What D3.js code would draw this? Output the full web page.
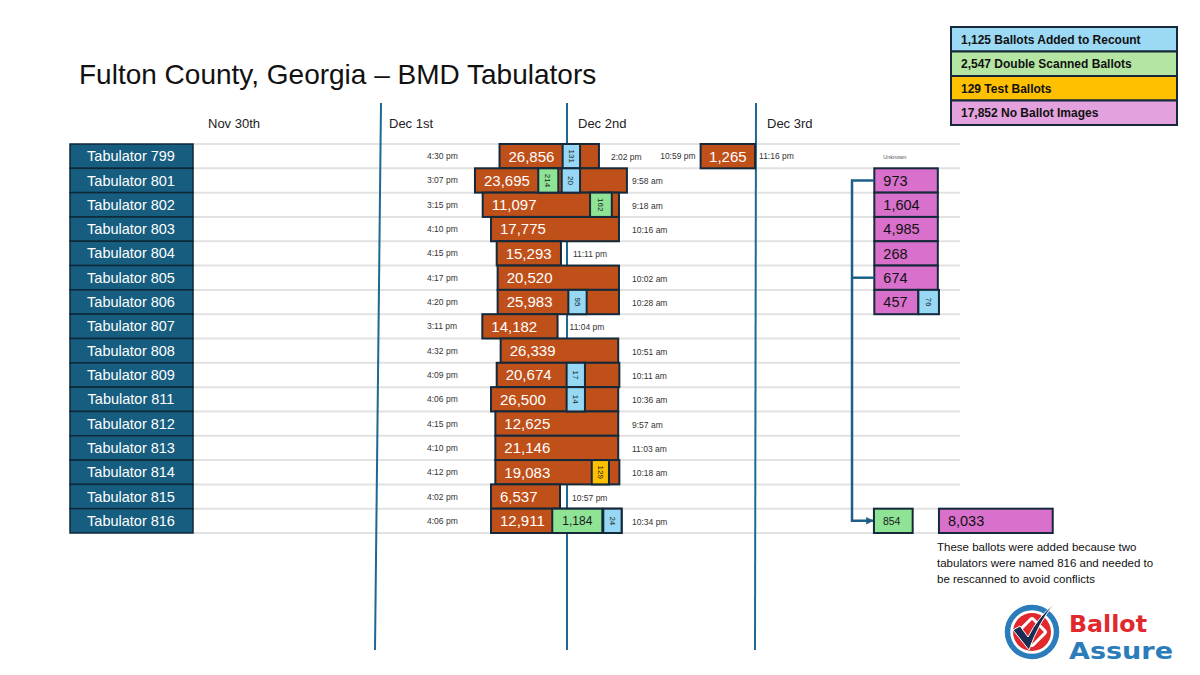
<!DOCTYPE html>
<html>
<head>
<meta charset="utf-8">
<script src="https://cdn.jsdelivr.net/npm/d3@7"></script>
<style>
  html, body { margin: 0; padding: 0; background: #fff; }
  svg { display: block; font-family: "Liberation Sans", Arial, sans-serif; }
</style>
</head>
<body>
<div id="chart"></div>
<script>
// Tabulator rows, top to bottom
const tabulators = ['Tabulator 799', 'Tabulator 801', 'Tabulator 802', 'Tabulator 803', 'Tabulator 804',
  'Tabulator 805', 'Tabulator 806', 'Tabulator 807', 'Tabulator 808', 'Tabulator 809', 'Tabulator 811',
  'Tabulator 812', 'Tabulator 813', 'Tabulator 814', 'Tabulator 815', 'Tabulator 816'];

const ballots = [26856, 23695, 11097, 17775, 15293, 20520, 25983, 14182, 26339, 20674, 26500,
  12625, 21146, 19083, 6537, 12911];

const startTimes = ['4:30 pm', '3:07 pm', '3:15 pm', '4:10 pm', '4:15 pm', '4:17 pm', '4:20 pm', '3:11 pm',
  '4:32 pm', '4:09 pm', '4:06 pm', '4:15 pm', '4:10 pm', '4:12 pm', '4:02 pm', '4:06 pm'];
const endTimes = ['2:02 pm', '9:58 am', '9:18 am', '10:16 am', '11:11 pm', '10:02 am', '10:28 am', '11:04 pm',
  '10:51 am', '10:11 am', '10:36 am', '9:57 am', '11:03 am', '10:18 am', '10:57 pm', '10:34 pm'];

// bar extents on the day axis (0 = Nov 30, 1 = Dec 1 ...), as drawn
const barStart = [1.643, 1.513, 1.554, 1.598, 1.628, 1.633, 1.633, 1.552, 1.649, 1.628, 1.598,
  1.621, 1.621, 1.621, 1.598, 1.598];
const barEnd = [2.169, 2.317, 2.275, 2.275, 1.968, 2.275, 2.275, 1.950, 2.271, 2.277, 2.271,
  2.271, 2.271, 2.277, 1.963, 2.289];

// second scan of tabulator 799
const rescan = { row: 'Tabulator 799', value: 1265, start: 2.707, end: 2.995, from: '10:59 pm', to: '11:16 pm' };

// small boxes: added (blue), double scanned (green), test (yellow)
const extras = [
  { row: 'Tabulator 799', kind: 'added', value: 131, start: 1.977, end: 2.069 },
  { row: 'Tabulator 801', kind: 'double', value: 214, start: 1.848, end: 1.954 },
  { row: 'Tabulator 801', kind: 'added', value: 20, start: 1.972, end: 2.069 },
  { row: 'Tabulator 802', kind: 'double', value: 162, start: 2.122, end: 2.237 },
  { row: 'Tabulator 806', kind: 'added', value: 95, start: 2.007, end: 2.104 },
  { row: 'Tabulator 809', kind: 'added', value: 17, start: 1.998, end: 2.095 },
  { row: 'Tabulator 811', kind: 'added', value: 14, start: 1.998, end: 2.095 },
  { row: 'Tabulator 814', kind: 'test', value: 129, start: 2.131, end: 2.222 },
  { row: 'Tabulator 816', kind: 'double', value: 1184, start: 1.922, end: 2.187, flat: true },
  { row: 'Tabulator 816', kind: 'added', value: 24, start: 2.192, end: 2.289 },
  { row: 'Tabulator 806', kind: 'added', value: 76, start: 3.859, end: 3.968 },
  { row: 'Tabulator 816', kind: 'double', value: 854, start: 3.624, end: 3.829, flat: true, small: true }
];

// "Unknown" column: no ballot images
const unknownRows = ['Tabulator 801', 'Tabulator 802', 'Tabulator 803', 'Tabulator 804', 'Tabulator 805', 'Tabulator 806'];
const unknownValues = [973, 1604, 4985, 268, 674, 457];
const unknownStart = [3.626, 3.626, 3.626, 3.626, 3.626, 3.626];
const unknownEnd = [3.962, 3.962, 3.962, 3.962, 3.962, 3.859];
const duplicate816 = { row: 'Tabulator 816', value: 8033, start: 3.968, end: 4.570 };

const dayLabels = ['Nov 30th', 'Dec 1st', 'Dec 2nd', 'Dec 3rd'];

const legendLabels = ['1,125 Ballots Added to Recount', '2,547 Double Scanned Ballots', '129 Test Ballots', '17,852 No Ballot Images'];
const legendColors = ['#9bd9f5', '#b5e5a3', '#ffc000', '#e3a1dd'];

const noteLines = ['These ballots were added because two', 'tabulators were named 816 and needed to', 'be rescanned to avoid conflicts'];

const colors = { main: '#c0501a', added: '#97d8f4', double: '#8ee395', test: '#ffc000', unknown: '#d870cc' };
const edge = '#14293a';

const W = 1200, H = 675;
const svg = d3.select('#chart').append('svg').attr('width', W).attr('height', H);

const x = d3.scaleLinear().domain([0, 4]).range([189, 945]);
const y = d3.scaleBand().domain(tabulators).range([144, 533]).padding(0);
const bh = y.bandwidth();
const mid = r => y(r) + bh / 2;

// title
svg.append('text').attr('x', 79).attr('y', 84)
  .style('font-size', '28px').style('fill', '#111')
  .text('Fulton County, Georgia – BMD Tabulators');

// row grid lines
const gridYs = tabulators.map(r => y(r)).concat([y(tabulators[tabulators.length - 1]) + bh]);
svg.append('g').selectAll('line').data(gridYs).join('line')
  .attr('x1', 193).attr('x2', 960)
  .attr('y1', d => d).attr('y2', d => d)
  .style('stroke', '#e2e2e2').style('stroke-width', 2);

// day separators
svg.append('g').selectAll('line').data([1, 2, 3]).join('line')
  .attr('x1', d => x(d) + (d === 1 ? 3 : 0)).attr('x2', d => x(d) - (d === 1 ? 3 : d === 3 ? 1 : 0))
  .attr('y1', 103).attr('y2', 650)
  .style('stroke', '#1f6890').style('stroke-width', 2);

// day labels
svg.append('g').selectAll('text').data(dayLabels).join('text')
  .attr('x', (d, i) => x(i) + (i === 0 ? 19 : 11))
  .attr('y', 128)
  .style('font-size', '13px').style('fill', '#222')
  .text(d => d);

// tabulator name boxes
const names = svg.append('g');
names.selectAll('rect').data(tabulators).join('rect')
  .attr('x', 70).attr('y', d => y(d)).attr('width', 123).attr('height', bh)
  .style('fill', '#175d80').style('stroke', '#0e2838').style('stroke-width', 1.5);
names.selectAll('text').data(tabulators).join('text')
  .attr('x', 131).attr('y', d => mid(d)).attr('dy', '0.35em')
  .attr('text-anchor', 'middle')
  .style('font-size', '14.5px').style('fill', '#fff')
  .text(d => d);

// start time labels
svg.append('g').selectAll('text').data(startTimes).join('text')
  .attr('x', 427).attr('y', (d, i) => mid(tabulators[i])).attr('dy', '0.35em')
  .style('font-size', '8.5px').style('fill', '#333')
  .text(d => d);

// main tabulation bars
const bars = svg.append('g');
bars.selectAll('rect').data(tabulators).join('rect')
  .attr('x', (d, i) => x(barStart[i])).attr('y', d => y(d))
  .attr('width', (d, i) => x(barEnd[i]) - x(barStart[i])).attr('height', bh)
  .style('fill', colors.main).style('stroke', edge).style('stroke-width', 2);
bars.selectAll('text').data(tabulators).join('text')
  .attr('x', (d, i) => x(barStart[i]) + 9).attr('y', d => mid(d)).attr('dy', '0.36em')
  .style('font-size', '15px').style('fill', '#fff')
  .text((d, i) => d3.format(',')(ballots[i]));

// end time labels
svg.append('g').selectAll('text').data(endTimes).join('text')
  .attr('x', (d, i) => x(barEnd[i]) < 600 ? x(barEnd[i]) + 12 : 632)
  .attr('y', (d, i) => mid(tabulators[i]) + 1).attr('dy', '0.35em')
  .style('font-size', '8.5px').style('fill', '#333')
  .text(d => d);

// rescan of 799
svg.append('rect')
  .attr('x', x(rescan.start)).attr('y', y(rescan.row))
  .attr('width', x(rescan.end) - x(rescan.start)).attr('height', bh)
  .style('fill', colors.main).style('stroke', edge).style('stroke-width', 2);
svg.append('text').attr('x', (x(rescan.start) + x(rescan.end)) / 2).attr('y', mid(rescan.row)).attr('dy', '0.36em')
  .attr('text-anchor', 'middle').style('font-size', '15px').style('fill', '#fff')
  .text(d3.format(',')(rescan.value));
svg.append('text').attr('x', x(rescan.start) - 5).attr('y', mid(rescan.row)).attr('dy', '0.35em')
  .attr('text-anchor', 'end').style('font-size', '8.5px').style('fill', '#333').text(rescan.from);
svg.append('text').attr('x', x(rescan.end) + 4).attr('y', mid(rescan.row)).attr('dy', '0.35em')
  .style('font-size', '8.5px').style('fill', '#333').text(rescan.to);

// unknown column
svg.append('text').attr('x', x(3.626) + 9).attr('y', y('Tabulator 801') - 9)
  .style('font-size', '5.5px').style('fill', '#555').text('Unknown');
const unk = svg.append('g');
unk.selectAll('rect').data(unknownRows).join('rect')
  .attr('x', (d, i) => x(unknownStart[i])).attr('y', d => y(d))
  .attr('width', (d, i) => x(unknownEnd[i]) - x(unknownStart[i])).attr('height', bh)
  .style('fill', colors.unknown).style('stroke', edge).style('stroke-width', 2);
unk.selectAll('text').data(unknownRows).join('text')
  .attr('x', (d, i) => x(unknownStart[i]) + 9).attr('y', d => mid(d)).attr('dy', '0.36em')
  .style('font-size', '14.5px').style('fill', '#111')
  .text((d, i) => d3.format(',')(unknownValues[i]));

svg.append('rect')
  .attr('x', x(duplicate816.start)).attr('y', y(duplicate816.row))
  .attr('width', x(duplicate816.end) - x(duplicate816.start)).attr('height', bh)
  .style('fill', colors.unknown).style('stroke', edge).style('stroke-width', 2);
svg.append('text').attr('x', x(duplicate816.start) + 9).attr('y', mid(duplicate816.row)).attr('dy', '0.36em')
  .style('font-size', '14.5px').style('fill', '#111').text(d3.format(',')(duplicate816.value));

// small boxes
const ex = svg.append('g').selectAll('g').data(extras).join('g');
ex.append('rect')
  .attr('x', d => x(d.start)).attr('y', d => y(d.row))
  .attr('width', d => x(d.end) - x(d.start)).attr('height', bh)
  .style('fill', d => colors[d.kind]).style('stroke', edge).style('stroke-width', 2);
ex.append('text')
  .attr('transform', d => {
    const cx = d.small ? x(d.start) + 9 : (x(d.start) + x(d.end)) / 2;
    return d.flat ? `translate(${cx},${mid(d.row)})` : `translate(${cx},${mid(d.row)}) rotate(90)`;
  })
  .attr('dy', '0.35em')
  .attr('text-anchor', d => d.small ? 'start' : 'middle')
  .style('font-size', d => d.small ? '10.5px' : d.flat ? '12px' : '8px')
  .style('fill', '#1a1a1a')
  .text(d => d3.format(',')(d.value));

// connector from the 816 duplicates to the unknown column
const cx = x(3.508);
const conn = '#1d5f88';
svg.append('defs').append('marker').attr('id', 'arrow')
  .attr('viewBox', '0 0 10 10').attr('refX', 9).attr('refY', 5)
  .attr('markerWidth', 3).attr('markerHeight', 3).attr('orient', 'auto')
  .append('path').attr('d', 'M0,0 L10,5 L0,10 Z').style('fill', conn);
const link = svg.append('g').style('fill', 'none').style('stroke', conn).style('stroke-width', 2.5);
link.append('path')
  .attr('d', `M${x(3.626)},${mid('Tabulator 801')} H${cx} V${mid('Tabulator 816')} H${x(3.624) - 1}`)
  .attr('marker-end', 'url(#arrow)');
link.append('path').attr('d', `M${x(3.626)},${mid('Tabulator 805')} H${cx}`);

// note
svg.append('g').selectAll('text').data(noteLines).join('text')
  .attr('x', 937).attr('y', (d, i) => 551 + i * 16)
  .style('font-size', '11.5px').style('fill', '#111')
  .text(d => d);

// legend
const lg = svg.append('g').attr('transform', 'translate(951,27)');
const lh = 24.5;
lg.selectAll('rect').data(legendLabels).join('rect')
  .attr('x', 0).attr('y', (d, i) => i * lh).attr('width', 226).attr('height', lh)
  .style('fill', (d, i) => legendColors[i]).style('stroke', '#16283a').style('stroke-width', 2);
lg.selectAll('text').data(legendLabels).join('text')
  .attr('x', 10).attr('y', (d, i) => i * lh + lh / 2).attr('dy', '0.36em')
  .style('font-size', '12px').style('font-weight', 'bold').style('fill', '#111')
  .text(d => d);

// Ballot Assure logo
const logo = svg.append('g');
logo.append('circle').attr('cx', 1032).attr('cy', 632).attr('r', 24.5)
  .style('fill', 'none').style('stroke', '#2b7cba').style('stroke-width', 5.5);
logo.append('circle').attr('cx', 1032).attr('cy', 632).attr('r', 19).style('fill', '#e1282c');
logo.append('rect').attr('x', 1022).attr('y', 622).attr('width', 20).attr('height', 20).attr('rx', 2)
  .attr('transform', 'rotate(45,1032,632)')
  .style('fill', '#e1282c').style('stroke', '#fff').style('stroke-width', 3);
logo.append('path')
  .attr('d', 'M1013,630 L1020,626 L1028,637 Q1038,617 1054,604 Q1039,622 1029,650 Z')
  .style('fill', '#1b2c52').style('stroke', '#fff').style('stroke-width', 1);
logo.append('text').attr('x', 1069).attr('y', 632)
  .attr('textLength', 78).attr('lengthAdjust', 'spacingAndGlyphs')
  .style('font-family', '"DejaVu Sans", sans-serif').style('font-weight', 'bold')
  .style('font-size', '23px').style('fill', '#e1282c').text('Ballot');
logo.append('text').attr('x', 1069).attr('y', 659)
  .attr('textLength', 104).attr('lengthAdjust', 'spacingAndGlyphs')
  .style('font-family', '"DejaVu Sans", sans-serif').style('font-weight', 'bold')
  .style('font-size', '23px').style('fill', '#2b7cba').text('Assure');
</script>
</body>
</html>
